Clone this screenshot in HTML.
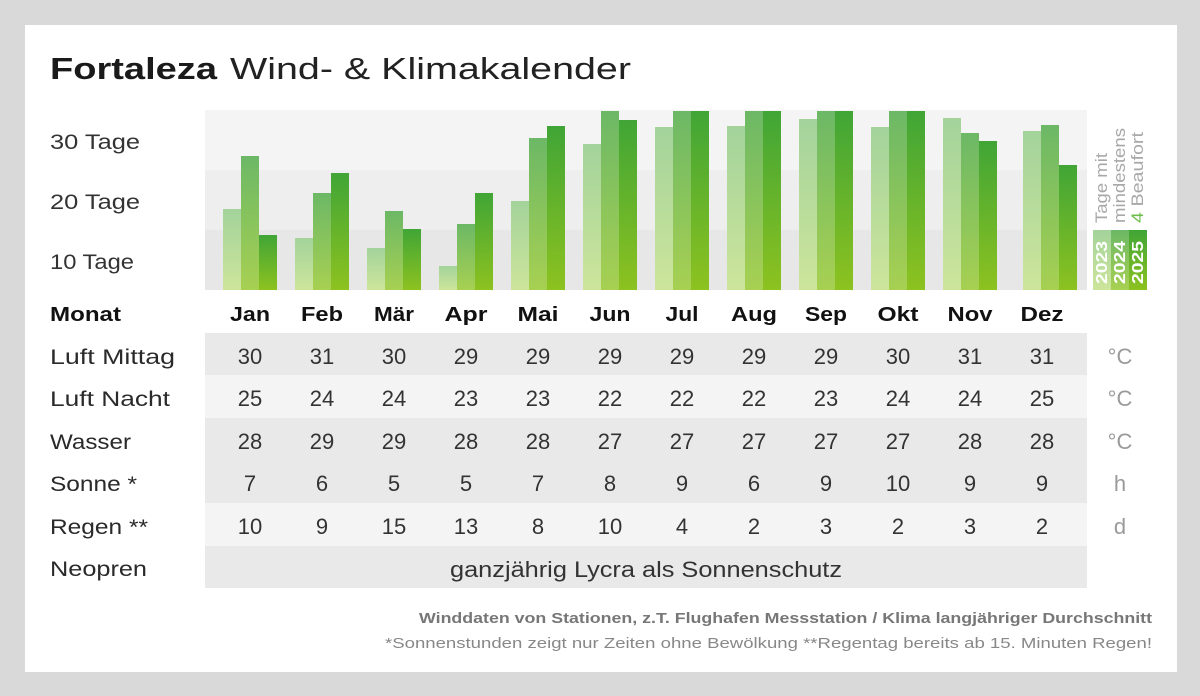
<!DOCTYPE html>
<html>
<head>
<meta charset="utf-8">
<style>
html,body{margin:0;padding:0;background:#d9d9d9;}
svg{display:block;}
text{font-family:"Liberation Sans",Arial,sans-serif;}
</style>
</head>
<body>
<svg width="1200" height="696" viewBox="0 0 1200 696" xmlns="http://www.w3.org/2000/svg">
<defs>
<linearGradient id="g1" x1="0" y1="0" x2="0" y2="1"><stop offset="0" stop-color="#a3d39b"/><stop offset="1" stop-color="#cde59b"/></linearGradient>
<linearGradient id="g2" x1="0" y1="0" x2="0" y2="1"><stop offset="0" stop-color="#6cb866"/><stop offset="1" stop-color="#a7d052"/></linearGradient>
<linearGradient id="g3" x1="0" y1="0" x2="0" y2="1"><stop offset="0" stop-color="#40a536"/><stop offset="1" stop-color="#8dc220"/></linearGradient>
</defs>
<rect x="0" y="0" width="1200" height="696" fill="#d9d9d9"/>
<rect x="25" y="25" width="1152" height="647" fill="#ffffff"/>

<!-- Title -->
<text x="50" y="79" font-size="31" font-weight="bold" fill="#1a1a1a" textLength="167" lengthAdjust="spacingAndGlyphs">Fortaleza</text>
<text x="230" y="79" font-size="31" fill="#222" textLength="401" lengthAdjust="spacingAndGlyphs">Wind- &amp; Klimakalender</text>

<!-- chart bands -->
<rect x="205" y="110" width="882" height="60" fill="#f4f4f4"/>
<rect x="205" y="170" width="882" height="60" fill="#eeeeee"/>
<rect x="205" y="230" width="882" height="60" fill="#e7e7e7"/>

<!-- y labels -->
<g font-size="21" fill="#333">
<text x="50" y="149" textLength="90" lengthAdjust="spacingAndGlyphs">30 Tage</text>
<text x="50" y="209" textLength="90" lengthAdjust="spacingAndGlyphs">20 Tage</text>
<text x="50" y="269" textLength="84" lengthAdjust="spacingAndGlyphs">10 Tage</text>
</g>

<!-- bars -->
<g>
<!-- Jan 223 -->
<rect x="223" y="209" width="18" height="81" fill="url(#g1)"/>
<rect x="241" y="156" width="18" height="134" fill="url(#g2)"/>
<rect x="259" y="235" width="18" height="55" fill="url(#g3)"/>
<!-- Feb 295 -->
<rect x="295" y="238" width="18" height="52" fill="url(#g1)"/>
<rect x="313" y="193" width="18" height="97" fill="url(#g2)"/>
<rect x="331" y="173" width="18" height="117" fill="url(#g3)"/>
<!-- Mar 367 -->
<rect x="367" y="248" width="18" height="42" fill="url(#g1)"/>
<rect x="385" y="211" width="18" height="79" fill="url(#g2)"/>
<rect x="403" y="229" width="18" height="61" fill="url(#g3)"/>
<!-- Apr 439 -->
<rect x="439" y="266" width="18" height="24" fill="url(#g1)"/>
<rect x="457" y="224" width="18" height="66" fill="url(#g2)"/>
<rect x="475" y="193" width="18" height="97" fill="url(#g3)"/>
<!-- Mai 511 -->
<rect x="511" y="201" width="18" height="89" fill="url(#g1)"/>
<rect x="529" y="138" width="18" height="152" fill="url(#g2)"/>
<rect x="547" y="126" width="18" height="164" fill="url(#g3)"/>
<!-- Jun 583 -->
<rect x="583" y="144" width="18" height="146" fill="url(#g1)"/>
<rect x="601" y="111" width="18" height="179" fill="url(#g2)"/>
<rect x="619" y="120" width="18" height="170" fill="url(#g3)"/>
<!-- Jul 655 -->
<rect x="655" y="127" width="18" height="163" fill="url(#g1)"/>
<rect x="673" y="111" width="18" height="179" fill="url(#g2)"/>
<rect x="691" y="111" width="18" height="179" fill="url(#g3)"/>
<!-- Aug 727 -->
<rect x="727" y="126" width="18" height="164" fill="url(#g1)"/>
<rect x="745" y="111" width="18" height="179" fill="url(#g2)"/>
<rect x="763" y="111" width="18" height="179" fill="url(#g3)"/>
<!-- Sep 799 -->
<rect x="799" y="119" width="18" height="171" fill="url(#g1)"/>
<rect x="817" y="111" width="18" height="179" fill="url(#g2)"/>
<rect x="835" y="111" width="18" height="179" fill="url(#g3)"/>
<!-- Okt 871 -->
<rect x="871" y="127" width="18" height="163" fill="url(#g1)"/>
<rect x="889" y="111" width="18" height="179" fill="url(#g2)"/>
<rect x="907" y="111" width="18" height="179" fill="url(#g3)"/>
<!-- Nov 943 -->
<rect x="943" y="118" width="18" height="172" fill="url(#g1)"/>
<rect x="961" y="133" width="18" height="157" fill="url(#g2)"/>
<rect x="979" y="141" width="18" height="149" fill="url(#g3)"/>
<!-- Dez 1023 -->
<rect x="1023" y="131" width="18" height="159" fill="url(#g1)"/>
<rect x="1041" y="125" width="18" height="165" fill="url(#g2)"/>
<rect x="1059" y="165" width="18" height="125" fill="url(#g3)"/>
</g>

<!-- legend -->
<rect x="1093" y="230" width="18" height="60" fill="url(#g1)"/>
<rect x="1111" y="230" width="18" height="60" fill="url(#g2)"/>
<rect x="1129" y="230" width="18" height="60" fill="url(#g3)"/>
<g font-size="16" font-weight="bold" fill="#ffffff">
<text transform="translate(1107,284) rotate(-90)" textLength="43" lengthAdjust="spacingAndGlyphs">2023</text>
<text transform="translate(1125,284) rotate(-90)" textLength="43" lengthAdjust="spacingAndGlyphs">2024</text>
<text transform="translate(1143,284) rotate(-90)" textLength="43" lengthAdjust="spacingAndGlyphs">2025</text>
</g>
<g font-size="17" fill="#a8a8a8">
<text transform="translate(1107,223) rotate(-90)" textLength="70" lengthAdjust="spacingAndGlyphs">Tage mit</text>
<text transform="translate(1125,223) rotate(-90)" textLength="95" lengthAdjust="spacingAndGlyphs">mindestens</text>
<text transform="translate(1143,223) rotate(-90)" textLength="91" lengthAdjust="spacingAndGlyphs"><tspan fill="#6cbf4a">4</tspan> Beaufort</text>
</g>

<!-- header row -->
<g font-size="20" font-weight="bold" fill="#111" text-anchor="middle">
<text x="85.5" y="321" textLength="71" lengthAdjust="spacingAndGlyphs">Monat</text>
<text x="250" y="321" textLength="40" lengthAdjust="spacingAndGlyphs">Jan</text>
<text x="322" y="321" textLength="42" lengthAdjust="spacingAndGlyphs">Feb</text>
<text x="394" y="321" textLength="40" lengthAdjust="spacingAndGlyphs">Mär</text>
<text x="466" y="321" textLength="43" lengthAdjust="spacingAndGlyphs">Apr</text>
<text x="538" y="321" textLength="41" lengthAdjust="spacingAndGlyphs">Mai</text>
<text x="610" y="321" textLength="41" lengthAdjust="spacingAndGlyphs">Jun</text>
<text x="682" y="321" textLength="33" lengthAdjust="spacingAndGlyphs">Jul</text>
<text x="754" y="321" textLength="46" lengthAdjust="spacingAndGlyphs">Aug</text>
<text x="826" y="321" textLength="42" lengthAdjust="spacingAndGlyphs">Sep</text>
<text x="898" y="321" textLength="41" lengthAdjust="spacingAndGlyphs">Okt</text>
<text x="970" y="321" textLength="45" lengthAdjust="spacingAndGlyphs">Nov</text>
<text x="1042" y="321" textLength="43" lengthAdjust="spacingAndGlyphs">Dez</text>
</g>

<!-- table rows backgrounds -->
<rect x="205" y="333" width="882" height="42" fill="#e9e9e9"/>
<rect x="205" y="375" width="882" height="43" fill="#f4f4f4"/>
<rect x="205" y="418" width="882" height="85" fill="#e9e9e9"/>
<rect x="205" y="503" width="882" height="43" fill="#f4f4f4"/>
<rect x="205" y="546" width="882" height="42" fill="#e9e9e9"/>

<!-- row labels -->
<g font-size="21" fill="#2a2a2a">
<text x="50" y="364" textLength="125" lengthAdjust="spacingAndGlyphs">Luft Mittag</text>
<text x="50" y="406" textLength="120" lengthAdjust="spacingAndGlyphs">Luft Nacht</text>
<text x="50" y="449" textLength="81" lengthAdjust="spacingAndGlyphs">Wasser</text>
<text x="50" y="491" textLength="87" lengthAdjust="spacingAndGlyphs">Sonne *</text>
<text x="50" y="534" textLength="98" lengthAdjust="spacingAndGlyphs">Regen **</text>
<text x="50" y="576" textLength="97" lengthAdjust="spacingAndGlyphs">Neopren</text>
</g>

<!-- data -->
<g font-size="22" fill="#333" text-anchor="middle">
<!-- Luft Mittag -->
<text x="250" y="364">30</text><text x="322" y="364">31</text><text x="394" y="364">30</text><text x="466" y="364">29</text><text x="538" y="364">29</text><text x="610" y="364">29</text><text x="682" y="364">29</text><text x="754" y="364">29</text><text x="826" y="364">29</text><text x="898" y="364">30</text><text x="970" y="364">31</text><text x="1042" y="364">31</text>
<!-- Luft Nacht -->
<text x="250" y="406">25</text><text x="322" y="406">24</text><text x="394" y="406">24</text><text x="466" y="406">23</text><text x="538" y="406">23</text><text x="610" y="406">22</text><text x="682" y="406">22</text><text x="754" y="406">22</text><text x="826" y="406">23</text><text x="898" y="406">24</text><text x="970" y="406">24</text><text x="1042" y="406">25</text>
<!-- Wasser -->
<text x="250" y="449">28</text><text x="322" y="449">29</text><text x="394" y="449">29</text><text x="466" y="449">28</text><text x="538" y="449">28</text><text x="610" y="449">27</text><text x="682" y="449">27</text><text x="754" y="449">27</text><text x="826" y="449">27</text><text x="898" y="449">27</text><text x="970" y="449">28</text><text x="1042" y="449">28</text>
<!-- Sonne -->
<text x="250" y="491">7</text><text x="322" y="491">6</text><text x="394" y="491">5</text><text x="466" y="491">5</text><text x="538" y="491">7</text><text x="610" y="491">8</text><text x="682" y="491">9</text><text x="754" y="491">6</text><text x="826" y="491">9</text><text x="898" y="491">10</text><text x="970" y="491">9</text><text x="1042" y="491">9</text>
<!-- Regen -->
<text x="250" y="534">10</text><text x="322" y="534">9</text><text x="394" y="534">15</text><text x="466" y="534">13</text><text x="538" y="534">8</text><text x="610" y="534">10</text><text x="682" y="534">4</text><text x="754" y="534">2</text><text x="826" y="534">3</text><text x="898" y="534">2</text><text x="970" y="534">3</text><text x="1042" y="534">2</text>
</g>
<text x="646" y="577" font-size="22" fill="#333" text-anchor="middle" textLength="392" lengthAdjust="spacingAndGlyphs">ganzjährig Lycra als Sonnenschutz</text>

<!-- units -->
<g font-size="22" fill="#9a9a9a" text-anchor="middle">
<text x="1120" y="364">°C</text>
<text x="1120" y="406">°C</text>
<text x="1120" y="449">°C</text>
<text x="1120" y="491">h</text>
<text x="1120" y="534">d</text>
</g>

<!-- footer -->
<text x="419" y="623" font-size="15" font-weight="bold" fill="#777" textLength="733" lengthAdjust="spacingAndGlyphs">Winddaten von Stationen, z.T. Flughafen Messstation / Klima langjähriger Durchschnitt</text>
<text x="385" y="648" font-size="15" fill="#888" textLength="767" lengthAdjust="spacingAndGlyphs">*Sonnenstunden zeigt nur Zeiten ohne Bewölkung  **Regentag bereits ab 15. Minuten Regen!</text>
</svg>
</body>
</html>
